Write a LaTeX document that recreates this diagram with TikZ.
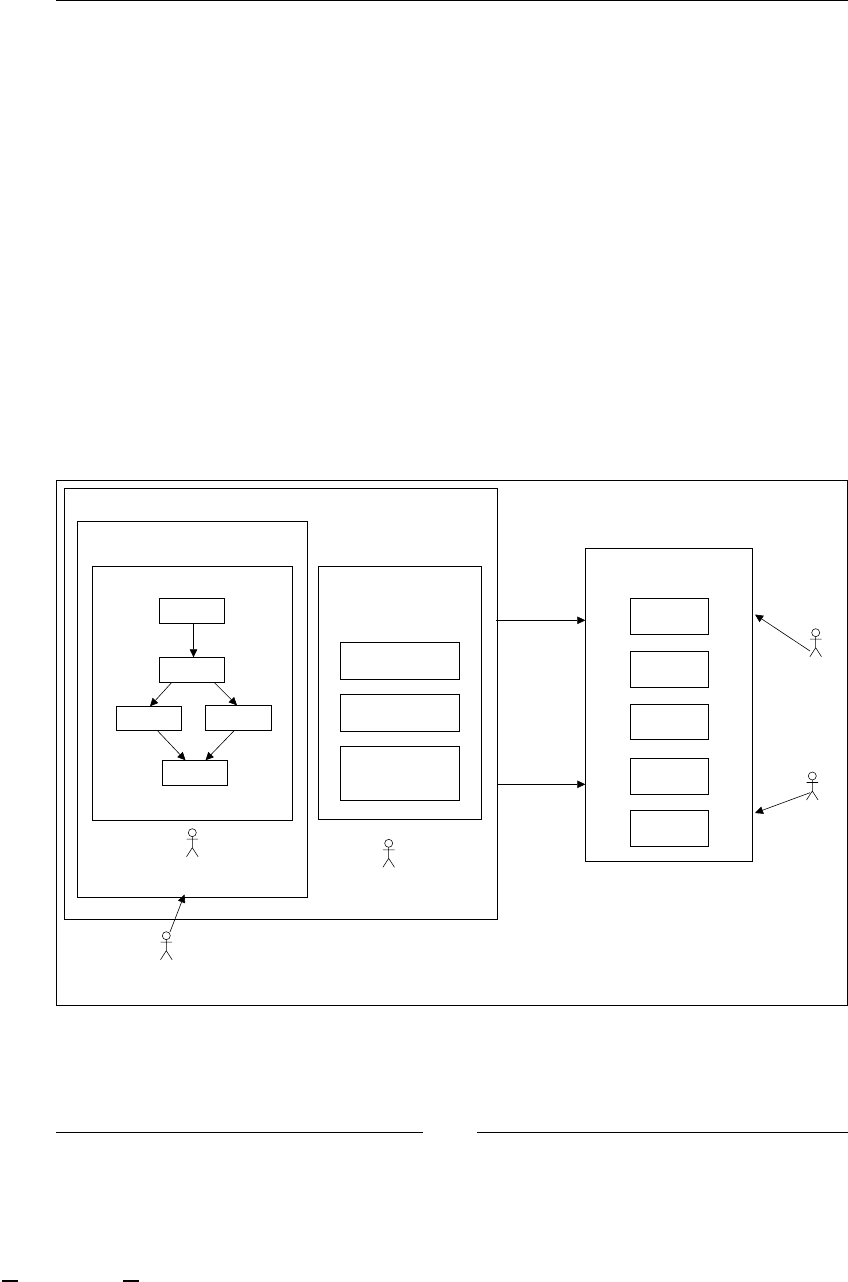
\documentclass[tikz,border=0pt]{standalone}
\usetikzlibrary{arrows.meta}
\tikzset{
  x=1pt,y=-1pt,
  panel/.style={draw=black,line width=0.75pt,fill=none},
  conn/.style={draw=black,line width=0.6pt,-{Triangle[length=8pt,width=7.5pt]},shorten >=0pt},
  rulerline/.style={draw=black,line width=1pt},
  figure/.style={draw=black,line width=0.55pt},
}
\newcommand{\boxnode}[5]{%
  \node[panel,inner sep=0pt,outer sep=0pt,anchor=north west,minimum width=#4-#2,minimum height=#5-#3] (#1) at (#2,#3) {};}
\newcommand{\actor}[3]{% name, head x, head y
  \begin{scope}[shift={(#2,#3)}]
    \node[circle,figure,inner sep=0pt,minimum size=8pt] (#1) at (0,0) {};
    \draw[figure] (0,4) -- (0,15) (-5.8,6.5) -- (5.8,6.5) (-5.8,24) -- (0,15) -- (5.8,24);
  \end{scope}}
\begin{document}
\begin{tikzpicture}
\useasboundingbox (0,0) rectangle (848,1282);
\fill[white] (0,0) rectangle (848,1282);
% page rules
\coordinate (ra) at (56,0.6); \coordinate (rb) at (848,0.6);
\draw[rulerline] (ra) -- (rb);
\coordinate (rc) at (56,1132.5); \coordinate (rd) at (423,1132.5);
\coordinate (re) at (477,1132.5); \coordinate (rf) at (848,1132.5);
\draw[rulerline] (rc) -- (rd);
\draw[rulerline] (re) -- (rf);
% panels
\boxnode{outer}{56.3}{480.3}{847.5}{1005.3}
\boxnode{second}{64.3}{488.3}{497.7}{919.3}
\boxnode{third}{77.3}{521.3}{307.7}{897.3}
\boxnode{fourth}{92.3}{566.5}{292.7}{820.3}
\boxnode{rpanel}{318.3}{566.5}{481.7}{819.3}
\boxnode{a}{159.3}{598.3}{224.7}{623.5}
\boxnode{b}{159.3}{657.3}{224.7}{682.5}
\boxnode{c}{116.3}{706.3}{181.7}{730.5}
\boxnode{d}{205.3}{705.3}{271.7}{730.5}
\boxnode{e}{162.3}{760.3}{227.7}{785.3}
\boxnode{s1}{340.3}{642.3}{459.7}{679.7}
\boxnode{s2}{340.3}{694.3}{459.7}{731.7}
\boxnode{s3}{340.3}{746.3}{459.7}{800.3}
\boxnode{big}{585.3}{548.3}{752.3}{861.3}
\boxnode{i1}{630.3}{598.3}{708.7}{634.3}
\boxnode{i2}{630.3}{651.3}{708.7}{687.3}
\boxnode{i3}{630.3}{704.3}{708.7}{739.3}
\boxnode{i4}{630.3}{758.3}{708.7}{794.3}
\boxnode{i5}{630.3}{810.3}{708.7}{846.3}
% actors
\actor{p1}{192.3}{832.7}
\actor{p2}{388.7}{843.3}
\actor{p3}{166.3}{935.7}
\actor{p4}{815.7}{632.7}
\actor{p5}{812.3}{776}
% connectors inside the flow
\draw[conn] (a.south -| 193.5,0) -- (b.north -| 193.5,0);
\draw[conn] (b.south -| 171.7,0) -- (c.north -| 150,0);
\draw[conn] (b.south -| 214.3,0) -- (d.north -| 237,0);
\draw[conn] (c.south -| 157.3,0) -- (e.north -| 185.5,0);
\draw[conn] (d.south -| 234.3,0) -- (e.north -| 205.5,0);
% connectors between groups
\draw[conn] (second.east |- 0,620.3) ++(-1.5,0) -- (big.west |- 0,620.3);
\draw[conn] (second.east |- 0,784.3) -- (big.west |- 0,784.3);
% actor connectors
\coordinate (t3) at (184.5,894.5);
\coordinate (t4) at (755,614.5);
\coordinate (t5) at (755,813);
\coordinate (f4) at (810,651);
\coordinate (f5) at (810,792.7);
\coordinate (f3) at (170,932);
\draw[conn] (f3) -- (t3);
\draw[conn] (f4) -- (t4);
\draw[conn] (f5) -- (t5);
% cropped marks at the page foot
\fill[black] (2,1280.3) rectangle (18,1282);
\fill[black] (122.7,1280.3) rectangle (138.7,1282);
\end{tikzpicture}
\end{document}
